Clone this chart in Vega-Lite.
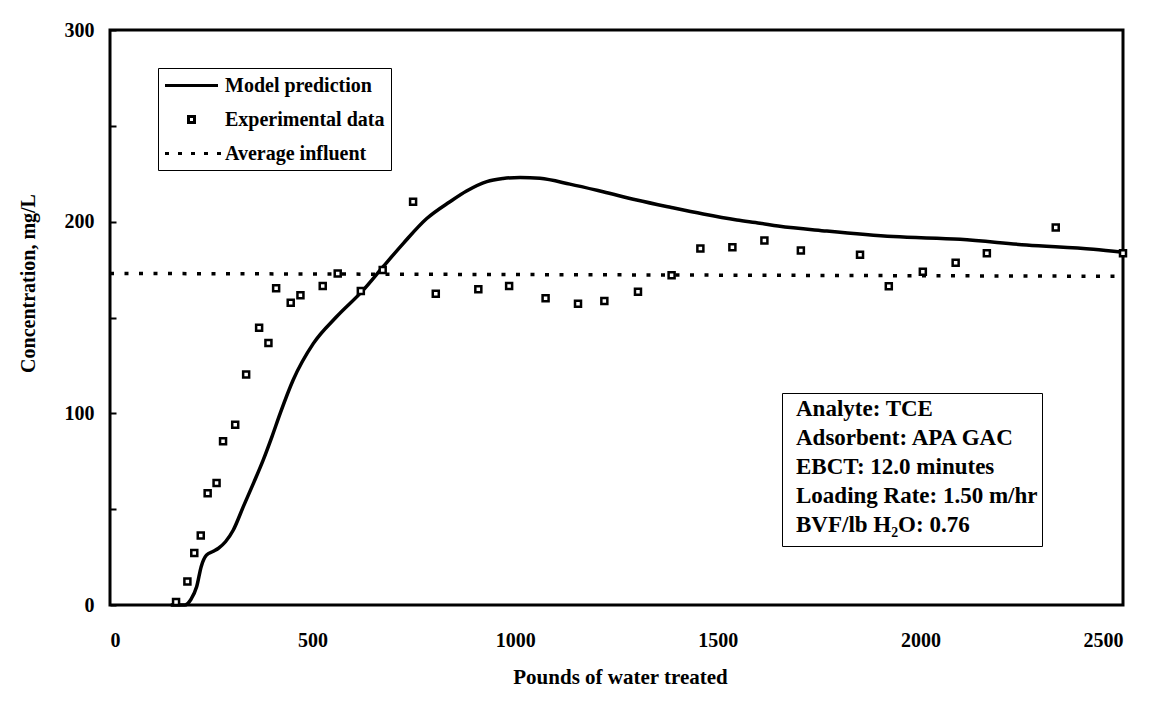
{
  "$schema": "https://vega.github.io/schema/vega-lite/v6.json",
  "width": 1013,
  "height": 575,
  "autosize": "none",
  "padding": {"left": 110, "top": 30, "right": 33, "bottom": 104},
  "background": "white",
  "config": {
    "view": {"stroke": "black", "strokeWidth": 3},
    "axis": {
      "labelFont": "Liberation Serif", "labelFontWeight": "bold", "labelFontSize": 20, "labelColor": "black",
      "titleFont": "Liberation Serif", "titleFontWeight": "bold", "titleFontSize": 20, "titleColor": "black",
      "domain": false, "grid": false
    }
  },
  "layer": [
    {
      "data": {"values": [
        {"x": 0, "y": 173, "series": "Average influent"},
        {"x": 2500, "y": 171.5, "series": "Average influent"}
      ]},
      "mark": {"type": "line", "color": "black", "strokeWidth": 3.5, "strokeDash": [4, 10.5]},
      "encoding": {
        "x": {"field": "x", "type": "quantitative", "scale": {"domain": [0, 2500], "nice": false},
          "axis": {"values": [0, 500, 1000, 1500, 2000, 2500], "format": "d", "ticks": false, "labelPadding": 25,
            "title": "Pounds of water treated", "titleX": 510, "titleY": 72, "titleAlign": "center", "titleBaseline": "middle", "titleFontSize": 21}},
        "y": {"field": "y", "type": "quantitative", "scale": {"domain": [0, 300], "nice": false},
          "axis": {"values": [0, 50, 100, 150, 200, 250, 300], "labelExpr": "datum.value % 100 === 0 ? datum.label : ''",
            "tickSize": -6, "tickWidth": 2, "tickColor": "black", "labelPadding": 22,
            "title": "Concentration, mg/L", "titleX": -82, "titleY": 253, "titleAlign": "center", "titleBaseline": "middle", "titleAngle": -90}}
      }
    },
    {
      "data": {"values": [
        {"x": 150, "y": 0}, {"x": 185, "y": 0}, {"x": 200, "y": 3}, {"x": 214, "y": 9.6}, {"x": 225, "y": 20},
        {"x": 238, "y": 26}, {"x": 255, "y": 28}, {"x": 267, "y": 29.5}, {"x": 285, "y": 33}, {"x": 304, "y": 39},
        {"x": 329, "y": 51.3}, {"x": 355, "y": 64}, {"x": 378, "y": 75.6}, {"x": 400, "y": 88}, {"x": 420, "y": 100},
        {"x": 452, "y": 117.4}, {"x": 502, "y": 136.5}, {"x": 559, "y": 150.4}, {"x": 625, "y": 164.3}, {"x": 674, "y": 176.5},
        {"x": 724, "y": 188.7}, {"x": 781, "y": 201.5}, {"x": 839, "y": 210.4}, {"x": 880, "y": 216}, {"x": 930, "y": 220.9},
        {"x": 970, "y": 222.5}, {"x": 1012, "y": 223.1}, {"x": 1061, "y": 222.6}, {"x": 1135, "y": 219.6}, {"x": 1217, "y": 215.6},
        {"x": 1300, "y": 211.3}, {"x": 1383, "y": 207.5}, {"x": 1464, "y": 204}, {"x": 1547, "y": 200.9}, {"x": 1604, "y": 199.2},
        {"x": 1649, "y": 197.7}, {"x": 1769, "y": 195.1}, {"x": 1933, "y": 192.2}, {"x": 2098, "y": 190.8}, {"x": 2262, "y": 187.8},
        {"x": 2427, "y": 185.6}, {"x": 2500, "y": 184}
      ]},
      "mark": {"type": "line", "color": "black", "strokeWidth": 3.5, "interpolate": "monotone"},
      "encoding": {
        "x": {"field": "x", "type": "quantitative"},
        "y": {"field": "y", "type": "quantitative"}
      }
    },
    {
      "data": {"values": [
        {"x": 163, "y": 1.6}, {"x": 191, "y": 12.3}, {"x": 208, "y": 27.1}, {"x": 224, "y": 36.3}, {"x": 241, "y": 58.3},
        {"x": 263, "y": 63.7}, {"x": 279, "y": 85.5}, {"x": 309, "y": 94}, {"x": 336, "y": 120.2}, {"x": 368, "y": 144.7},
        {"x": 391, "y": 136.7}, {"x": 410, "y": 165.2}, {"x": 446, "y": 157.7}, {"x": 470, "y": 161.6}, {"x": 525, "y": 166.4},
        {"x": 562, "y": 173}, {"x": 619, "y": 163.8}, {"x": 673, "y": 174.8}, {"x": 748, "y": 210.4}, {"x": 804, "y": 162.4},
        {"x": 909, "y": 164.7}, {"x": 985, "y": 166.4}, {"x": 1075, "y": 160}, {"x": 1155, "y": 157.2}, {"x": 1220, "y": 158.6},
        {"x": 1303, "y": 163.5}, {"x": 1386, "y": 172}, {"x": 1457, "y": 186}, {"x": 1536, "y": 186.6}, {"x": 1615, "y": 190.2},
        {"x": 1705, "y": 185}, {"x": 1851, "y": 182.8}, {"x": 1922, "y": 166.3}, {"x": 2006, "y": 173.9}, {"x": 2087, "y": 178.6},
        {"x": 2164, "y": 183.5}, {"x": 2334, "y": 196.9}, {"x": 2500, "y": 183.5}
      ]},
      "transform": [{"calculate": "'Experimental data'", "as": "series"}],
      "mark": {"type": "point", "filled": true, "fill": "white", "stroke": "black", "strokeWidth": 2.5, "size": 400, "opacity": 1},
      "encoding": {
        "x": {"field": "x", "type": "quantitative"},
        "y": {"field": "y", "type": "quantitative"},
        "shape": {"field": "series", "type": "nominal",
          "scale": {"domain": ["Model prediction", "Experimental data", "Average influent"],
            "range": ["M-2.65,0H2.65", "M-0.3,-0.3H0.3V0.3H-0.3Z", "M-2.65,0H-2.25M-1.35,0H-0.95M-0.05,0H0.35M1.25,0H1.65M2.55,0H2.95"]},
          "legend": {
            "orient": "none", "legendX": 48, "legendY": 38, "title": null,
            "fillColor": "white", "strokeColor": "black", "padding": 6,
            "symbolSize": 400, "symbolStrokeWidth": 3, "symbolOffset": 16,
            "labelFont": "Liberation Serif", "labelFontWeight": "bold", "labelFontSize": 20, "labelColor": "black",
            "labelOffset": 22, "labelLimit": 400, "rowPadding": 12
          }
        }
      }
    },
    {
      "data": {"values": [
        {"info": "Analyte: TCE"},
        {"info": "Adsorbent: APA GAC"},
        {"info": "EBCT: 12.0 minutes"},
        {"info": "Loading Rate: 1.50 m/hr"},
        {"info": "BVF/lb H₂O: 0.76"}
      ]},
      "mark": {"type": "point", "size": 0, "strokeWidth": 0, "filled": false},
      "encoding": {
        "color": {"field": "info", "type": "nominal",
          "scale": {"domain": ["Analyte: TCE", "Adsorbent: APA GAC", "EBCT: 12.0 minutes", "Loading Rate: 1.50 m/hr", "BVF/lb H₂O: 0.76"],
            "range": ["black", "black", "black", "black", "black"]},
          "legend": {
            "orient": "none", "legendX": 672, "legendY": 363, "title": "\u00a0", "titleOrient": "bottom", "titleFontSize": 5, "titlePadding": 0,
            "fillColor": "white", "strokeColor": "black", "padding": 4,
            "symbolSize": 0, "symbolStrokeWidth": 0,
            "labelFont": "Liberation Serif", "labelFontWeight": "bold", "labelFontSize": 23, "labelColor": "black",
            "labelOffset": -13, "labelLimit": 400, "rowPadding": 5
          }
        }
      }
    }
  ]
}
